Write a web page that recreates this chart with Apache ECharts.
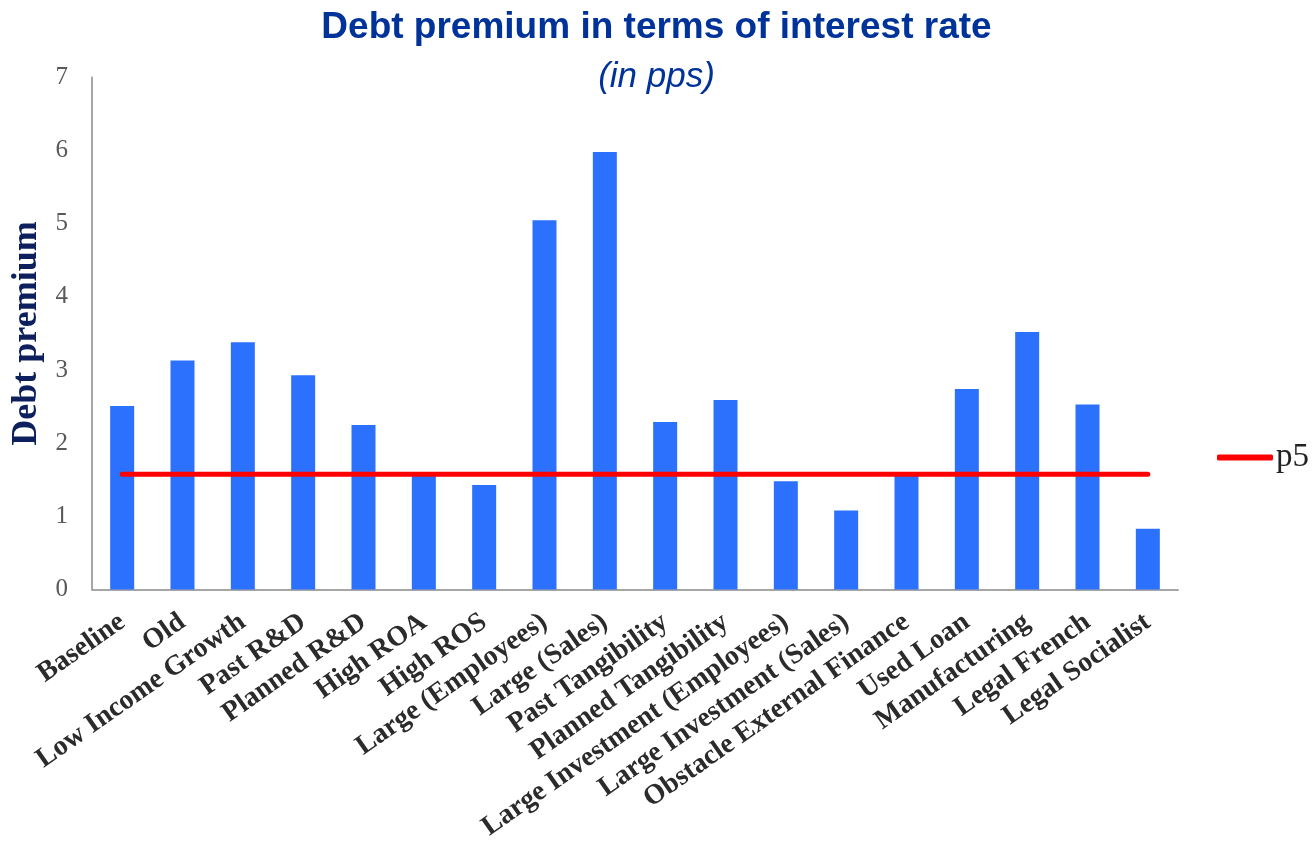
<!DOCTYPE html>
<html>
<head>
<meta charset="utf-8">
<title>Debt premium in terms of interest rate</title>
<script src="https://cdn.jsdelivr.net/npm/echarts@6/dist/echarts.min.js"></script>
<style>
  html, body { margin: 0; padding: 0; background: #ffffff; }
  #chart { width: 1313px; height: 843px; }
</style>
</head>
<body>
<div id="chart"></div>
<script>
// Firm groups on the x axis
const categories = [
  'Baseline', 'Old', 'Low Income Growth', 'Past R&D', 'Planned R&D',
  'High ROA', 'High ROS', 'Large (Employees)', 'Large (Sales)',
  'Past Tangibility', 'Planned Tangibility', 'Large Investment (Employees)',
  'Large Investment (Sales)', 'Obstacle External Finance', 'Used Loan',
  'Manufacturing', 'Legal French', 'Legal Socialist'
];

// Debt premium per group (pps)
const premium = [
  2.51, 3.13, 3.38, 2.93, 2.25,
  1.57, 1.43, 5.05, 5.98,
  2.29, 2.59, 1.48,
  1.08, 1.57, 2.74,
  3.52, 2.53, 0.83
];

// 5th percentile reference level, repeated for every group
const p5Level = 1.575;
const p5 = categories.map(() => p5Level);

// Y axis ticks
const yTicks = [0, 1, 2, 3, 4, 5, 6, 7];

const chart = echarts.init(document.getElementById('chart'), null, { renderer: 'canvas' });

chart.setOption({
  backgroundColor: '#ffffff',
  animation: false,
  title: [
    {
      text: 'Debt premium in terms of interest rate',
      left: 'center',
      top: 4,
      textStyle: {
        fontFamily: 'Liberation Sans',
        fontWeight: 'bold',
        fontSize: 37,
        color: '#003399'
      }
    },
    {
      text: '(in pps)',
      left: 'center',
      top: 55,
      textStyle: {
        fontFamily: 'Liberation Sans',
        fontStyle: 'italic',
        fontWeight: 'normal',
        fontSize: 35,
        color: '#003399'
      }
    }
  ],
  legend: {
    data: [{ name: 'p5', icon: 'roundRect' }],
    left: 1212,
    top: 436,
    itemWidth: 56,
    itemHeight: 6,
    itemGap: 0,
    textStyle: {
      fontFamily: 'Liberation Serif',
      fontSize: 33,
      color: '#222222',
      padding: [0, 0, 0, -2]
    }
  },
  grid: {
    left: 92,
    top: 77.5,
    width: 1086,
    height: 512,
    containLabel: false,
    outerBoundsMode: 'none'
  },
  xAxis: {
    type: 'category',
    data: categories,
    boundaryGap: true,
    axisLine: { show: true, lineStyle: { color: '#a6a6a6', width: 2 } },
    axisTick: { show: false },
    axisLabel: {
      interval: 0,
      rotate: 35,
      margin: 30,
      fontFamily: 'Liberation Serif',
      fontWeight: 'bold',
      fontSize: 28,
      color: '#2b2b2b'
    },
    splitLine: { show: false }
  },
  yAxis: {
    type: 'value',
    min: yTicks[0],
    max: yTicks[yTicks.length - 1],
    interval: 1,
    name: 'Debt premium',
    nameLocation: 'middle',
    nameRotate: 90,
    nameGap: 44,
    nameTextStyle: {
      fontFamily: 'Liberation Serif',
      fontWeight: 'bold',
      fontSize: 36,
      color: '#0d1f5c'
    },
    axisLine: { show: true, lineStyle: { color: '#a6a6a6', width: 2 } },
    axisTick: { show: false },
    axisLabel: {
      margin: 24,
      fontFamily: 'Liberation Serif',
      fontSize: 25,
      color: '#595959'
    },
    splitLine: { show: false }
  },
  series: [
    {
      name: 'premium',
      type: 'bar',
      data: premium,
      barWidth: 24,
      itemStyle: { color: '#2c71fd' },
      z: 2
    },
    {
      name: 'p5',
      type: 'line',
      data: p5,
      symbol: 'none',
      showSymbol: false,
      lineStyle: { color: '#ff0000', width: 5, cap: 'round' },
      itemStyle: { color: '#ff0000' },
      z: 3
    }
  ]
});
</script>
</body>
</html>
